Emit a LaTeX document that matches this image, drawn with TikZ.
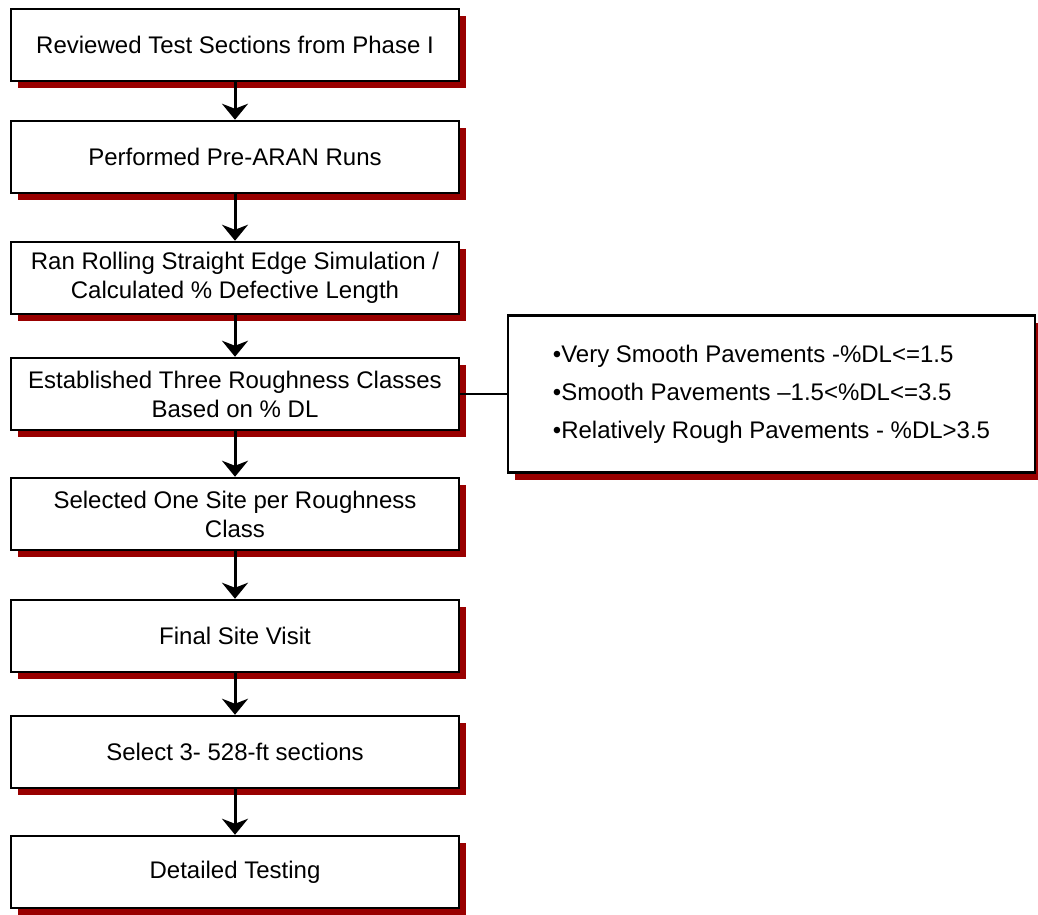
\documentclass[tikz,border=0pt]{standalone}
\usepackage{fontspec}
\setmainfont{Liberation Sans}
\usetikzlibrary{arrows.meta,shadows}
\definecolor{shadowred}{HTML}{990000}

\begin{document}
\begin{tikzpicture}[x=1pt,y=-1pt,
	stepbox/.style={draw, line width=2.5pt, fill=white, minimum width=448pt, minimum height=72pt,
		align=center, inner sep=0pt, font=\fontsize{24}{29}\selectfont,
		drop shadow={shadow xshift=7pt, shadow yshift=-7pt, fill=shadowred, opacity=1}},
	classbox/.style={stepbox, minimum width=527pt, minimum height=157pt, align=left,
		font=\fontsize{24}{38}\selectfont},
	flow/.style={-{Stealth[length=16pt, width=26pt, inset=5pt]}, line width=3pt}]
			\useasboundingbox (0,0) rectangle (1038,914);
			
			% cac buoc chinh, cot ben trai
			\node[stepbox] (review) at (235,45) {Reviewed Test Sections from Phase I};
			\node[stepbox] (prearan) at (235,157) {Performed Pre-ARAN Runs};
			\node[stepbox] (rse) at (235,278) {Ran Rolling Straight Edge Simulation /\\Calculated \% Defective Length};
			\node[stepbox] (classes) at (235,394) {Established Three Roughness Classes\\Based on \% DL};
			\node[stepbox] (select) at (235,514) {Selected One Site per Roughness\\Class};
			\node[stepbox] (visit) at (235,636) {Final Site Visit};
			\node[stepbox] (sections) at (235,752) {Select 3- 528-ft sections};
			\node[stepbox] (testing) at (235,872) {Detailed Testing};
			
			% ba lop do nham
			\node[classbox] (ranges) at (771.5,394) {•Very Smooth Pavements -\%DL<=1.5\\
				•Smooth Pavements \textendash1.5<\%DL<=3.5\\
				•Relatively Rough Pavements - \%DL>3.5};
			
			% mui ten
			\draw[flow] (review) -- (prearan);
			\draw[flow] (prearan) -- (rse);
			\draw[flow] (rse) -- (classes);
			\draw[flow] (classes) -- (select);
			\draw[flow] (select) -- (visit);
			\draw[flow] (visit) -- (sections);
			\draw[flow] (sections) -- (testing);
			\draw[line width=2pt] (classes) -- (ranges);
	\end{tikzpicture}
\end{document}
